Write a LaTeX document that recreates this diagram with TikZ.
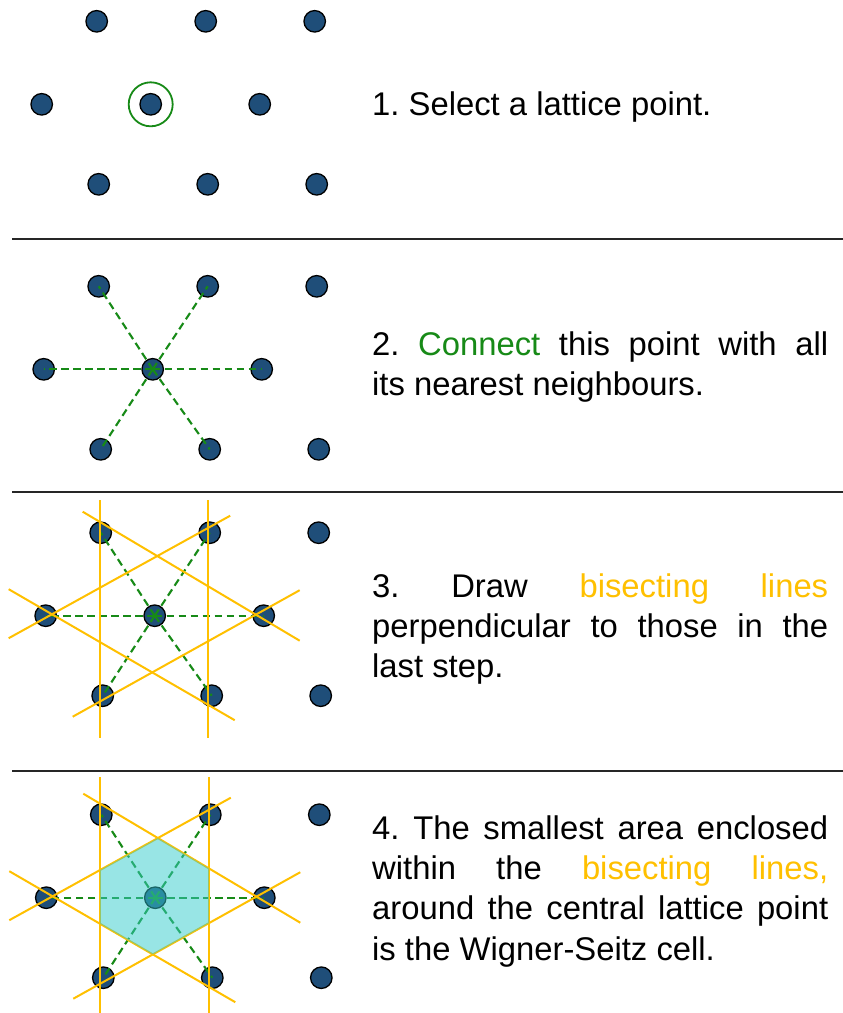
\documentclass[tikz,border=0pt]{standalone}
\usepackage{fontspec}
\setmainfont{Liberation Sans}
\usetikzlibrary{calc}
\definecolor{dotblue}{HTML}{1F4E79}
\definecolor{linkgreen}{HTML}{178A17}
\definecolor{gold}{HTML}{FFC000}
\definecolor{cellcyan}{HTML}{33CCCC}
\frenchspacing

\tikzset{
  latdot/.style={circle, draw=black, line width=1.3pt, fill=dotblue, minimum size=21.5pt, inner sep=0pt},
  link/.style={draw=linkgreen, line width=2.1pt, dash pattern=on 7.5pt off 4.5pt},
  bisector/.style={draw=gold, line width=2pt},
  separator/.style={draw=black!85, line width=2.2pt},
  steptext/.style={inner sep=0pt, text width=456pt, align=justify, anchor=base west,
    font=\fontsize{32.8}{40.3}\selectfont},
  cell/.style={fill=cellcyan, fill opacity=0.5, draw=none},
}

% nine lattice points around a central one at (#2,#3), named with prefix #1
\newcommand\latticeset[3]{%
  \begin{scope}[shift={(#2,#3)}]
    \node[latdot] (#1c)  at (0,0) {};
    \node[latdot] (#1tl) at (-54,-83) {};
    \node[latdot] (#1tr) at (55,-83) {};
    \node[latdot] (#1tf) at (164,-83) {};
    \node[latdot] (#1l)  at (-109,0) {};
    \node[latdot] (#1r)  at (109,0) {};
    \node[latdot] (#1bl) at (-52,80) {};
    \node[latdot] (#1br) at (57,80) {};
    \node[latdot] (#1bf) at (166,80) {};
  \end{scope}}

% dashed links from the central point to its six nearest neighbours
\newcommand\linkset[1]{%
  \foreach \n in {tl,tr,l,r,bl,br}{\draw[link] (#1c.center) -- (#1\n.center);}}

% perpendicular bisectors around the central point at (#2,#3);
% vertical ones run from #4 to #5 (relative)
\newcommand\bisectorset[5]{%
  \begin{scope}[shift={(#2,#3)}]
    \coordinate (#1a1) at (-72,-104);   \coordinate (#1a2) at (145,25);
    \coordinate (#1b1) at (-146,-26.5); \coordinate (#1b2) at (80,104.5);
    \coordinate (#1c1) at (-146,22.5);  \coordinate (#1c2) at (75.5,-100);
    \coordinate (#1d1) at (-82,101);    \coordinate (#1d2) at (145,-25.5);
    \coordinate (#1v1) at (-55.2,#4);   \coordinate (#1v2) at (-55.2,#5);
    \coordinate (#1w1) at (53.5,#4);    \coordinate (#1w2) at (53.5,#5);
  \end{scope}
  \foreach \p in {a,b,c,d,v,w}{\draw[bisector] (#1\p1) -- (#1\p2);}}

% a text line spread to the full width of the text column
\newcommand\fullline[1]{\makebox[456pt][s]{#1}}

\begin{document}
\begin{tikzpicture}[x=1pt, y=-1pt]
  \fill[white] (0,0) rectangle (843,1013);
  \useasboundingbox (0,0) rectangle (843,1013);

  % separators between the four steps
  \coordinate (s1a) at (12,239);  \coordinate (s1b) at (843,239);
  \coordinate (s2a) at (12,492);  \coordinate (s2b) at (843,492);
  \coordinate (s3a) at (12,771);  \coordinate (s3b) at (843,771);
  \draw[separator] (s1a) -- (s1b);
  \draw[separator] (s2a) -- (s2b);
  \draw[separator] (s3a) -- (s3b);

  % step 1
  \latticeset{p}{150.7}{104.3}
  \node[circle, draw=linkgreen, line width=1.8pt, minimum size=44pt, inner sep=0pt] (ring) at (pc) {};
  \node[steptext] (t1) at (372,115.7) {1. Select a lattice point.};

  % step 2
  \latticeset{q}{152.7}{369.3}
  \linkset{q}
  \node[steptext] (t2) at (372,355.5) {\fullline{2. \textcolor{linkgreen}{Connect} this point with all}\\its nearest neighbours.};

  % step 3
  \latticeset{u}{154.7}{615.7}
  \linkset{u}
  \bisectorset{u}{154.7}{615.7}{-115.7}{122.3}
  \node[steptext] (t3) at (372,597) {\fullline{3. Draw \textcolor{gold}{bisecting lines}}\\\fullline{perpendicular to those in the}\\last step.};

  % step 4
  \latticeset{v}{155.3}{897.7}
  \linkset{v}
  \bisectorset{v}{155.3}{897.7}{-120.7}{115.3}
  \fill[cell] (intersection of va1--va2 and vc1--vc2)
    -- (intersection of va1--va2 and vw1--vw2)
    -- (intersection of vd1--vd2 and vw1--vw2)
    -- (intersection of vb1--vb2 and vd1--vd2)
    -- (intersection of vb1--vb2 and vv1--vv2)
    -- (intersection of vc1--vc2 and vv1--vv2) -- cycle;
  \node[steptext] (t4) at (372,839.3) {\fullline{4. The smallest area enclosed}\\\fullline{within the \textcolor{gold}{bisecting lines,}}\\\fullline{around the central lattice point}\\is the Wigner-Seitz cell.};
\end{tikzpicture}
\end{document}
